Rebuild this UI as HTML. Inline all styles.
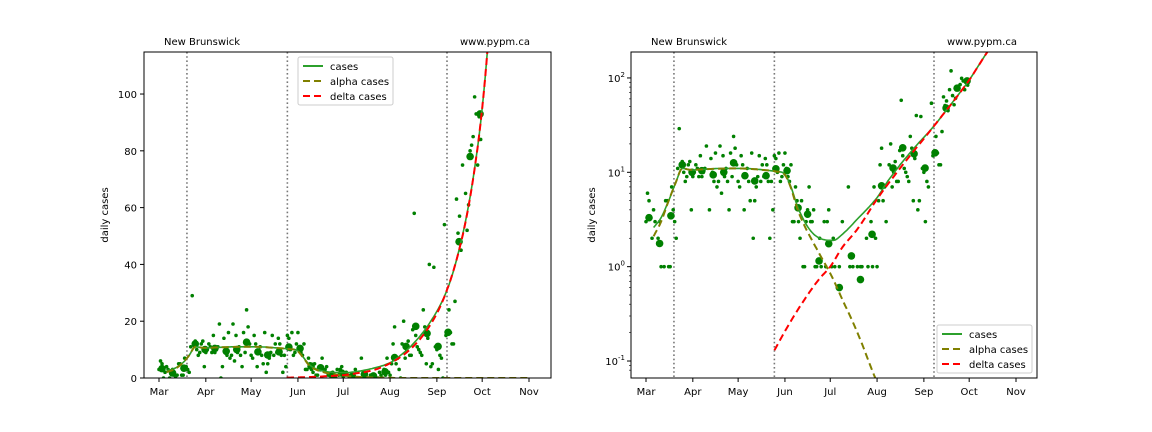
<!DOCTYPE html>
<html><head><meta charset="utf-8"><style>
html,body{margin:0;padding:0;background:#fff;overflow:hidden;width:1152px;height:432px;font-family:"Liberation Sans","DejaVu Sans",sans-serif}
svg{display:block}
svg text{font-family:"DejaVu Sans","Liberation Sans",sans-serif;font-size:10px;fill:#000}
</style></head><body>
<svg id="c" width="1152" height="432" xmlns="http://www.w3.org/2000/svg"></svg>
<script>
const monthLabels=["Mar","Apr","May","Jun","Jul","Aug","Sep","Oct","Nov"];
const monthDays=[0,31,61,92,122,153,184,214,245];
const vlineDays=[18.5,85,190.7];
const linTicks=[0,20,40,60,80,100];
const logTicks=[-1,0,1,2];
const dailyCases=[3,6,5,0,2,4,3, 0,2,3,1,0,1,5, 5,1,1,7,4,3,2, 11,29,12,13,10,8,9, 12,13,4,9,10,12,11, 9,15,9,10,11,19,0, 4,14,10,8,16,7,8, 19,6,15,9,11,8,4, 16,9,24,18,12,8,7, 15,12,4,9,11,8,5, 16,2,5,7,9,15,8, 12,9,14,12,8,2,8, 4,15,14,10,16,8,9, 12,16,11,9,8,12,3, 3,7,5,3,2,5,1, 1,3,4,7,3,3,4, 1,1,0,2,1,0,3, 1,3,4,0,1,2,1, 0,0,1,0,3,0,0, 0,7,1,0,1,0,0, 1,0,1,1,0,0,2, 1,0,3,1,7,2,1, 5,12,18,5,7,3,0, 12,20,7,10,13,8,8, 17,58,15,11,10,9,8, 24,18,5,14,40,4,5, 39,11,10,3,8,7,0, 54,15,16,24,16,12,12, 27,63,51,57,45,75,119, 65,52,61,80,82,85,99, 93,75,92,84];
const weeklyDays=[2,9,16.5,24,30.5,37,44.5,51.5,58,65.5,72,79.5,86,93.4,100.7,107,114.6,121,128,136,142,149.7,156,163.6,170,177.5,184.8,191.4,198.7,206,212.6];
const weeklyCases=[3.3,1.76,3.46,12,10,10.4,9.4,10,12.6,9.2,8.1,9.2,10.9,10.4,4.2,3.6,1.15,1.75,0.6,1.3,0.73,2.2,7.2,11.1,18.2,15.7,11.1,16.1,48,78,93];
const casesDays=[5,10,15,20,24,30,40,50,60,70,80,86,92,96,100,105,110,115,124,130,140,153,160,170,180,190,200,214,226,240];
const casesVals=[2.6,3.3,5,8,11,10.6,10.8,11,11,10.9,10.5,10.2,9.5,7,4.5,3,2.3,2.0,1.9,2.2,3.2,5.4,8,13,20,30,48,95,188,380];
const alphaDays=[5,10,15,20,24,30,40,60,80,86,92,96,100,105,110,115,122,130,140,152,170,200,245];
const alphaVals=[2.1,3,5,8,11,10.6,10.8,11,10.5,10.2,9.4,6.8,4.2,2.7,1.9,1.35,0.85,0.45,0.2,0.065,0.015,0.001,0.00003];
const deltaDays=[85,95,105,115,122,130,140,153,170,190,214,226,240];
const deltaVals=[0.13,0.25,0.45,0.75,1.0,1.6,2.5,5.2,12,30,95,188,380];

const NS="http://www.w3.org/2000/svg";
const svg=document.getElementById('c');
function mk(tag,attrs,parent){const e=document.createElementNS(NS,tag);for(const k in attrs)e.setAttribute(k,attrs[k]);(parent||svg).appendChild(e);return e;}
// smooth interpolation in log space (cubic Hermite)
function smooth(days,vals){
  const n=days.length,L=vals.map(v=>Math.log(v)),m=[];
  for(let i=0;i<n;i++){
    if(i===0)m.push((L[1]-L[0])/(days[1]-days[0]));
    else if(i===n-1)m.push((L[n-1]-L[n-2])/(days[n-1]-days[n-2]));
    else{const a=(L[i]-L[i-1])/(days[i]-days[i-1]),b=(L[i+1]-L[i])/(days[i+1]-days[i]);m.push(a*b<=0?0:(a+b)/2);}
  }
  const out=[];
  for(let i=0;i<n-1;i++){const h=days[i+1]-days[i];const steps=Math.max(2,Math.ceil(h));
    for(let s=0;s<steps;s++){const t=s/steps,t2=t*t,t3=t2*t;
      const y=(2*t3-3*t2+1)*L[i]+(t3-2*t2+t)*h*m[i]+(-2*t3+3*t2)*L[i+1]+(t3-t2)*h*m[i+1];
      out.push([days[i]+t*h,Math.exp(y)]);}}
  out.push([days[n-1],vals[n-1]]);return out;}

function panel(id,x0,x1,y0,y1,isLog,legendBox){
  const g=mk('g',{});
  
  
  const xs=d=>x0+15+d*1.5102;
  let ys;
  if(isLog){const top=2.275,bot=-1.18;ys=v=>y1-(Math.log10(v)-bot)/(top-bot)*(y1-y0);}
  else{ys=v=>y1-v/114.8*(y1-y0);}
  const cp=mk('clipPath',{id:'clip-'+id},g);mk('rect',{x:x0,y:y0,width:x1-x0,height:y1-y0},cp);
  const plot=mk('g',{'clip-path':'url(#clip-'+id+')'},g);
  vlineDays.forEach(d=>{const l=mk('line',{x1:xs(d),x2:xs(d),y1:y0,y2:y1,stroke:'#777','stroke-width':1.6,'stroke-dasharray':'1.6,2.6'},plot);
    });
  dailyCases.forEach((v,i)=>{if(isLog&&v<=0)return;const c=mk('circle',{cx:xs(i),cy:ys(v),r:1.8,fill:'#008000'},plot);
    });
  weeklyDays.forEach((d,i)=>{const c=mk('circle',{cx:xs(d),cy:ys(weeklyCases[i]),r:3.8,fill:'#008000'},plot);
    });
  function line(days,vals,color,dash,w,name,zeroStart,zeroEnd){
    let pts=smooth(days,vals);
    if(!isLog){if(zeroStart)pts=[[days[0],0]].concat(pts);if(zeroEnd)pts=pts.map(p=>[p[0],p[1]<0.05?0:p[1]]);}
    const s=pts.map(p=>xs(p[0]).toFixed(1)+','+ys(p[1]).toFixed(1)).join(' ');
    const p=mk('polyline',{points:s,fill:'none',stroke:color,'stroke-width':w,'stroke-linejoin':'round'},plot);
    if(dash)p.setAttribute('stroke-dasharray',dash);
    }
  line(casesDays,casesVals,'#2ca02c',null,1.6,'cases-line');
  line(alphaDays,alphaVals,'#808000','7,4',2,'alpha-cases-line',false,true);
  line(deltaDays,deltaVals,'#ff0000','7,4',2,'delta-cases-line',true,false);
  mk('rect',{x:x0,y:y0,width:x1-x0,height:y1-y0,fill:'none',stroke:'#000','stroke-width':1},g);
  monthDays.forEach((d,i)=>{mk('line',{x1:xs(d),x2:xs(d),y1:y1,y2:y1+4,stroke:'#000'},g);
    const t=mk('text',{x:xs(d),y:y1+17,'text-anchor':'middle'},g);t.textContent=monthLabels[i];
    });
  if(isLog){
    logTicks.forEach(e=>{const y=ys(Math.pow(10,e));mk('line',{x1:x0-4,x2:x0,y1:y,y2:y,stroke:'#000'},g);
      const t=mk('text',{x:x0-6,y:y+4,'text-anchor':'end'},g);t.textContent='10';
      
      const s=mk('tspan',{dy:-5,'font-size':7},t);s.textContent=String(e);
      for(let k=2;k<10;k++){const v=k*Math.pow(10,e);const yy=ys(v);if(yy>=y0&&yy<=y1)mk('line',{x1:x0-2,x2:x0,y1:yy,y2:yy,stroke:'#000','stroke-width':0.6},g);}});
    [0.08,0.09].forEach(v=>{const yy=ys(v);if(yy<=y1)mk('line',{x1:x0-2,x2:x0,y1:yy,y2:yy,stroke:'#000','stroke-width':0.6},g);});
  }else{
    linTicks.forEach(v=>{const y=ys(v);mk('line',{x1:x0-4,x2:x0,y1:y,y2:y,stroke:'#000'},g);
      const t=mk('text',{x:x0-7,y:y+4,'text-anchor':'end'},g);t.textContent=String(v);
      });
  }
  const yl=mk('text',{transform:`translate(${x0-36},${(y0+y1)/2}) rotate(-90)`,'text-anchor':'middle'},g);yl.textContent='daily cases';
  
  const t1=mk('text',{x:x0+20,y:45},g);t1.textContent='New Brunswick';
  
  const t2=mk('text',{x:x0+316,y:45},g);t2.textContent='www.pypm.ca';
  
  const [lx,ly]=legendBox;
  const lg=mk('g',{},g);
  mk('rect',{x:lx,y:ly,width:95,height:48,rx:2,fill:'#fff',stroke:'#ccc','fill-opacity':0.85},lg);
  [['cases','#2ca02c',null],['alpha cases','#808000','7,4'],['delta cases','#ff0000','7,4']].forEach((e,i)=>{
    const yy=ly+9+i*15;const l=mk('line',{x1:lx+5,x2:lx+25,y1:yy,y2:yy,stroke:e[1],'stroke-width':2},lg);if(e[2])l.setAttribute('stroke-dasharray',e[2]);
    const t=mk('text',{x:lx+32,y:yy+4},lg);t.textContent=e[0];
    });
}
panel('left',144,551,52,378,false,[298,57]);
panel('right',631,1037,52,378,true,[937,325]);
</script>
</body></html>
